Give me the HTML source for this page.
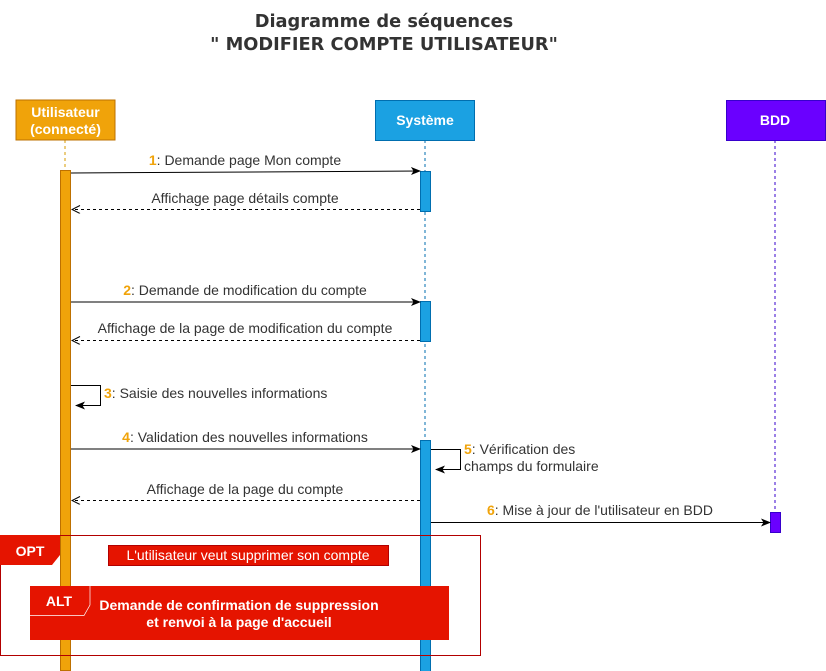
<!DOCTYPE html>
<html><head><meta charset="utf-8"><style>
html,body{margin:0;padding:0;background:#fff;}
svg{display:block;font-family:"Liberation Sans",Arial,sans-serif;}
</style></head><body>
<svg width="826" height="671" viewBox="0 0 826 671" xmlns="http://www.w3.org/2000/svg">
<defs>
<marker id="f" markerWidth="10" markerHeight="10" refX="9" refY="4" orient="auto" markerUnits="userSpaceOnUse"><path d="M0,0 L10,4 L0,8 L2.5,4 Z" fill="#000"/></marker>
<marker id="o" markerWidth="10" markerHeight="10" refX="9" refY="4" orient="auto" markerUnits="userSpaceOnUse"><path d="M1,0 L9,4 L1,8" fill="none" stroke="#000" stroke-width="1"/></marker>
</defs>
<g font-family="'DejaVu Sans',sans-serif" font-weight="bold" font-size="17.8" fill="#333" text-anchor="middle">
<text x="384" y="27">Diagramme de séquences</text>
<text x="384" y="50">" MODIFIER COMPTE UTILISATEUR"</text>
</g>
<!-- lifelines -->
<line x1="65" y1="140" x2="65" y2="671" stroke="#d79b00" stroke-dasharray="3,3"/>
<line x1="425" y1="140" x2="425" y2="671" stroke="#006eaf" stroke-dasharray="3,3"/>
<line x1="775" y1="140" x2="775" y2="512" stroke="#3700cc" stroke-dasharray="3,3"/>
<!-- heads -->
<rect x="16" y="100" width="99" height="40" fill="#f0a30a" stroke="#bd7000"/>
<text x="65.5" y="117" font-size="14" font-weight="bold" fill="#fff" text-anchor="middle">Utilisateur</text>
<text x="65.5" y="134" font-size="14" font-weight="bold" fill="#fff" text-anchor="middle">(connecté)</text>
<rect x="375.5" y="100.5" width="99" height="40" fill="#1ba1e2" stroke="#006eaf"/>
<text x="425" y="125" font-size="14" font-weight="bold" fill="#fff" text-anchor="middle">Système</text>
<rect x="726.5" y="100.5" width="99" height="40" fill="#6a00ff" stroke="#3700cc"/>
<text x="775" y="125" font-size="14" font-weight="bold" fill="#fff" text-anchor="middle">BDD</text>
<!-- activations -->
<rect x="60.5" y="170.5" width="10" height="500" fill="#f0a30a" stroke="#bd7000"/>
<rect x="420.5" y="171.5" width="10" height="40" fill="#1ba1e2" stroke="#006eaf"/>
<rect x="420.5" y="301.5" width="10" height="40" fill="#1ba1e2" stroke="#006eaf"/>
<rect x="420.5" y="440.5" width="10" height="231" fill="#1ba1e2" stroke="#006eaf"/>
<rect x="770.5" y="512.5" width="10" height="20" fill="#6a00ff" stroke="#3700cc"/>
<!-- messages -->
<g font-size="14" fill="#333" text-anchor="middle">
<line x1="71" y1="173" x2="420" y2="171" stroke="#000" marker-end="url(#f)"/>
<text x="245" y="165"><tspan fill="#f0a30a" font-weight="bold">1</tspan>: Demande page Mon compte</text>
<line x1="420" y1="209.5" x2="72" y2="209.5" stroke="#000" stroke-dasharray="3,3" marker-end="url(#o)"/>
<text x="245" y="203">Affichage page détails compte</text>
<line x1="71" y1="302" x2="420" y2="302" stroke="#000" marker-end="url(#f)"/>
<text x="245" y="295"><tspan fill="#f0a30a" font-weight="bold">2</tspan>: Demande de modification du compte</text>
<line x1="420" y1="340.5" x2="72" y2="340.5" stroke="#000" stroke-dasharray="3,3" marker-end="url(#o)"/>
<text x="245" y="333">Affichage de la page de modification du compte</text>
<polyline points="71,385.5 100.5,385.5 100.5,405.5 76,405.5" fill="none" stroke="#000" marker-end="url(#f)"/>
<text x="104" y="398" text-anchor="start"><tspan fill="#f0a30a" font-weight="bold">3</tspan>: Saisie des nouvelles informations</text>
<line x1="71" y1="449" x2="420" y2="449" stroke="#000" marker-end="url(#f)"/>
<text x="245" y="442"><tspan fill="#f0a30a" font-weight="bold">4</tspan>: Validation des nouvelles informations</text>
<polyline points="431,449.5 460.5,449.5 460.5,469.5 436,469.5" fill="none" stroke="#000" marker-end="url(#f)"/>
<text x="464" y="454" text-anchor="start"><tspan fill="#f0a30a" font-weight="bold">5</tspan>: Vérification des</text>
<text x="464" y="471" text-anchor="start">champs du formulaire</text>
<line x1="420" y1="500.5" x2="72" y2="500.5" stroke="#000" stroke-dasharray="3,3" marker-end="url(#o)"/>
<text x="245" y="494">Affichage de la page du compte</text>
<line x1="431" y1="522.5" x2="770" y2="522.5" stroke="#000" marker-end="url(#f)"/>
<text x="600" y="515"><tspan fill="#f0a30a" font-weight="bold">6</tspan>: Mise à jour de l'utilisateur en BDD</text>
</g>
<!-- OPT -->
<rect x="0.5" y="535.5" width="480" height="120" fill="none" stroke="#b20000"/>
<path d="M0,535 L60,535 L60,555 L52,565 L0,565 Z" fill="#e51400"/>
<text x="30" y="556" font-size="14" font-weight="bold" fill="#fff" text-anchor="middle">OPT</text>
<rect x="108.5" y="545.5" width="280" height="20" fill="#e51400" stroke="#b20000"/>
<text x="248" y="560" font-size="14" fill="#fff" text-anchor="middle">L'utilisateur veut supprimer son compte</text>
<!-- ALT -->
<rect x="30" y="586" width="419" height="54" fill="#e51400"/>
<path d="M30,615.5 L84,615.5 L90,605 L90,586" fill="none" stroke="#fff" stroke-width="0.7"/>
<text x="59" y="606" font-size="14" font-weight="bold" fill="#fff" text-anchor="middle">ALT</text>
<text x="239" y="610" font-size="14" font-weight="bold" fill="#fff" text-anchor="middle">Demande de confirmation de suppression</text>
<text x="239" y="627" font-size="14" font-weight="bold" fill="#fff" text-anchor="middle">et renvoi à la page d'accueil</text>
</svg>
</body></html>
